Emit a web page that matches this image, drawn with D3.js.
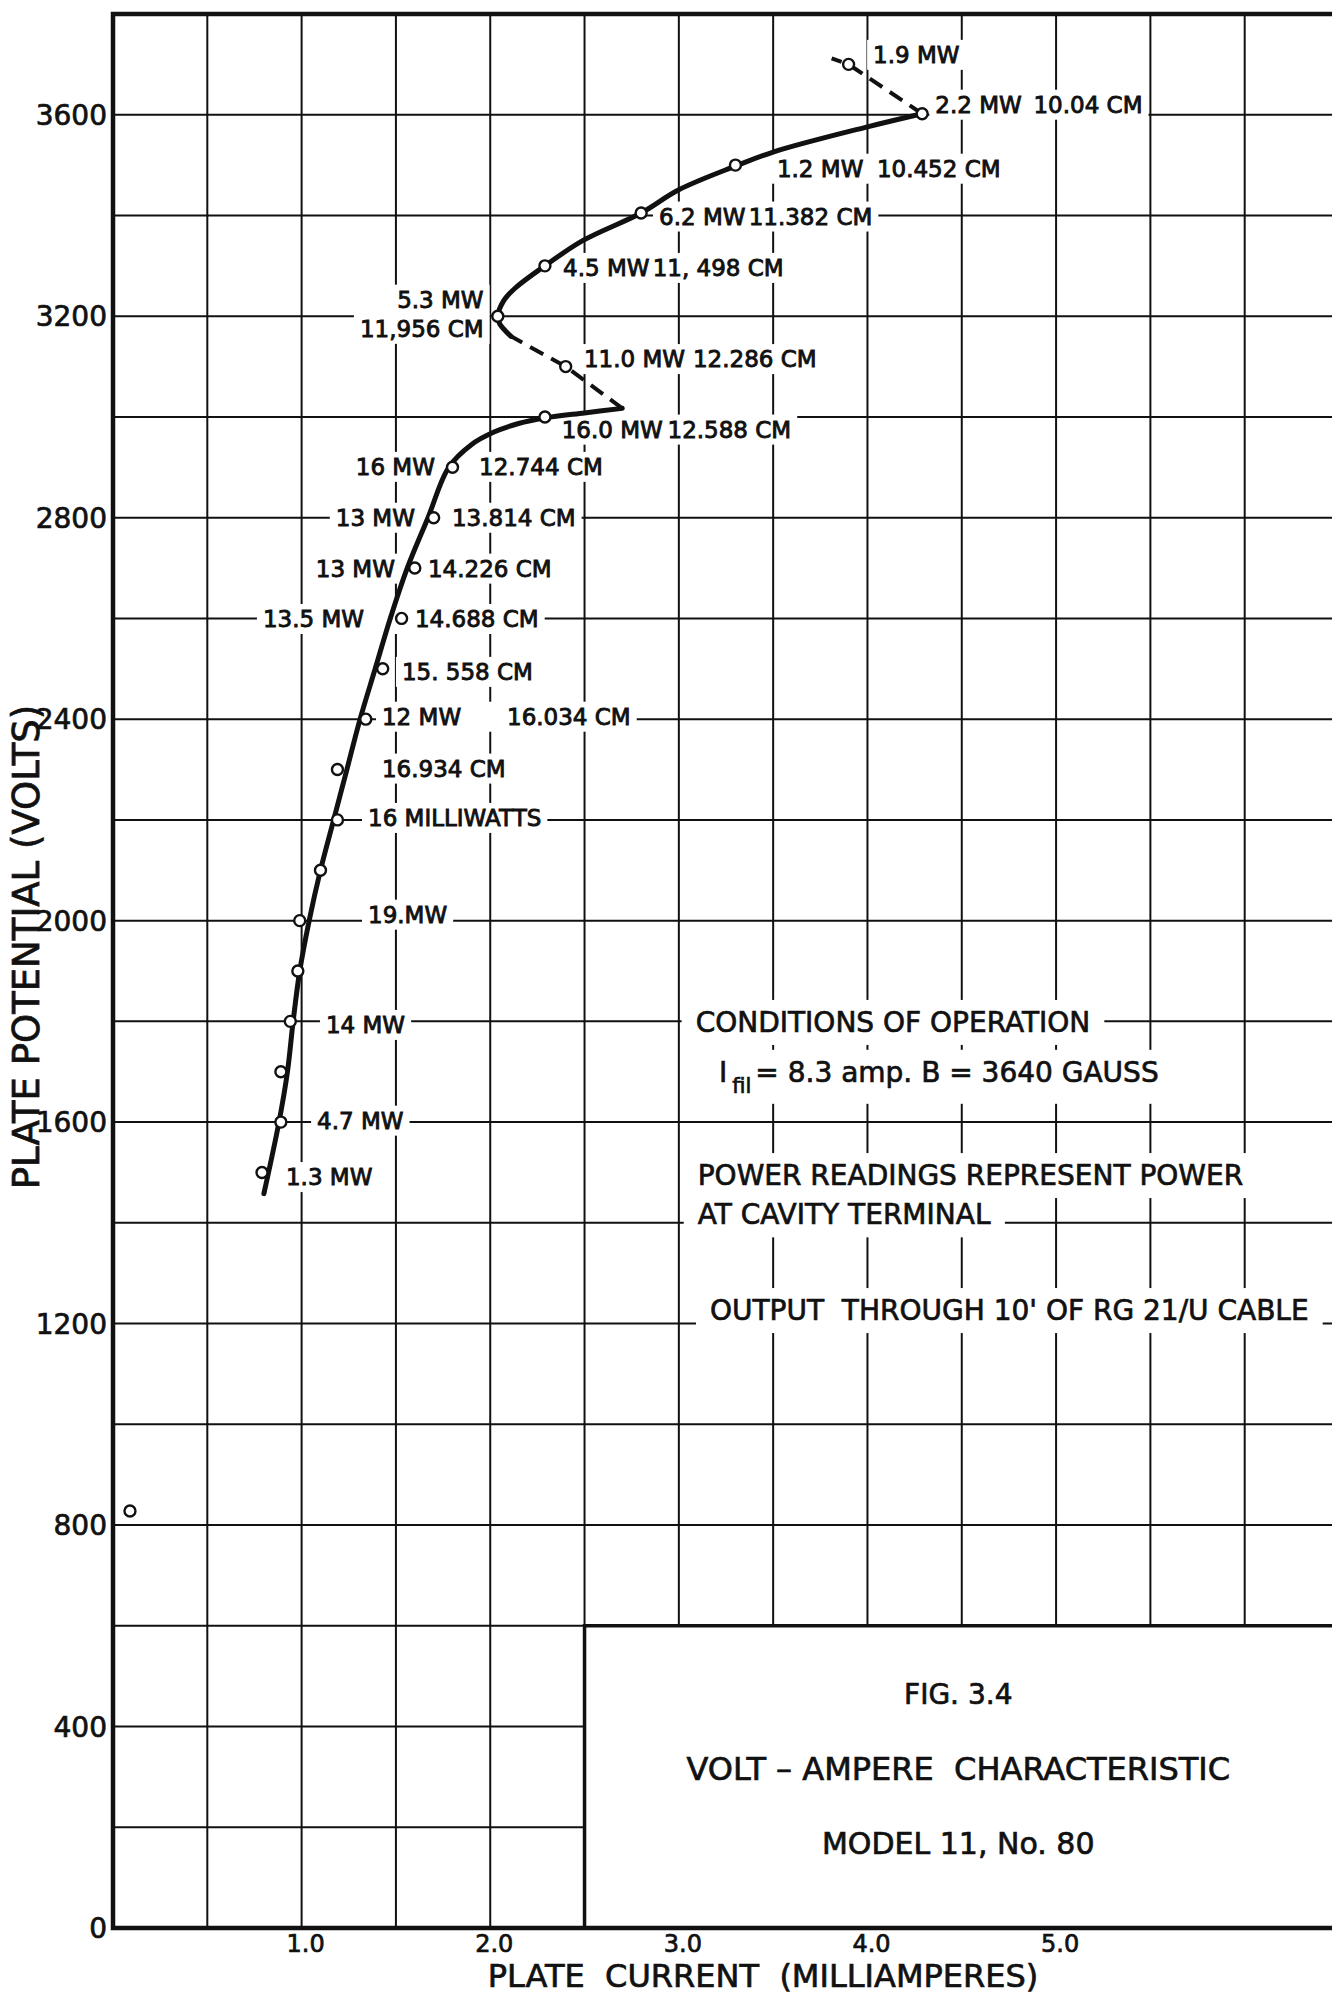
<!DOCTYPE html>
<meta charset="utf-8">
<style>
body {
  margin: 0;
  background: #fff;
}
text {
  font-family: "DejaVu Sans", sans-serif;
  fill: #111;
}
.grid line {
  stroke: #111;
  stroke-width: 2;
}
.lbl {
  font-size: 23px;
  stroke: #111;
  stroke-width: 0.9;
}
.note {
  font-size: 28px;
  stroke: #111;
  stroke-width: 0.7;
}
.tick {
  stroke: #111;
  stroke-width: 0.7;
}
</style>
<body>
<script src="https://cdn.jsdelivr.net/npm/d3@7"></script>
<script>

var width = 1332,
    height = 1995;

// observed readings: [plate current mA, plate potential V]
var points = [
  [0.09, 828], [0.79, 1500], [0.89, 1600], [0.89, 1700], [0.94, 1800],
  [0.98, 1900], [0.99, 2000], [1.10, 2100], [1.19, 2200], [1.19, 2300],
  [1.34, 2400], [1.43, 2500], [1.53, 2600], [1.60, 2700], [1.70, 2800],
  [1.80, 2900], [2.29, 3000], [2.40, 3100], [2.04, 3200], [2.29, 3300],
  [2.80, 3405], [3.30, 3500], [4.29, 3602], [3.90, 3700]
];

// hand-drawn curve
var lowerCurve = [
  [0.80, 1458], [0.88, 1600], [0.925, 1700], [0.955, 1800], [0.99, 1900],
  [1.04, 2000], [1.10, 2100], [1.17, 2200], [1.24, 2300], [1.31, 2400],
  [1.39, 2500], [1.47, 2600], [1.56, 2700], [1.67, 2800], [1.78, 2900],
  [1.90, 2945], [2.02, 2970], [2.15, 2987], [2.29, 2998], [2.50, 3008], [2.70, 3017]
];
var middleDash = [[2.70, 3017], [2.40, 3100], [2.11, 3160]];
var upperCurve = [
  [2.11, 3160], [2.05, 3185], [2.04, 3200], [2.07, 3230], [2.13, 3255],
  [2.29, 3300], [2.49, 3350], [2.80, 3405], [3.00, 3451], [3.30, 3498],
  [3.50, 3526], [4.00, 3576], [4.29, 3602]
];
var upperDash = [[4.29, 3602], [3.90, 3700], [3.81, 3712]];

// annotations: [text, mA, V, anchor]
var labels = [
  ["1.9 MW", 4.03, 3703, "start"],
  ["2.2 MW", 4.36, 3604, "start"],
  ["10.04 CM", 4.88, 3604, "start"],
  ["1.2 MW", 3.52, 3477, "start"],
  ["10.452 CM", 4.05, 3477, "start"],
  ["6.2 MW", 2.895, 3382, "start"],
  ["11.382 CM", 3.37, 3382, "start"],
  ["4.5 MW", 2.386, 3280, "start"],
  ["11, 498 CM", 2.861, 3280, "start"],
  ["5.3 MW", 1.965, 3217, "end"],
  ["11,956 CM", 1.965, 3159, "end"],
  ["11.0 MW", 2.497, 3099, "start"],
  ["12.286 CM", 3.075, 3099, "start"],
  ["16.0 MW", 2.379, 2959, "start"],
  ["12.588 CM", 2.94, 2959, "start"],
  ["16 MW", 1.707, 2885, "end"],
  ["12.744 CM", 1.941, 2885, "start"],
  ["13 MW", 1.601, 2784, "end"],
  ["13.814 CM", 1.797, 2784, "start"],
  ["13 MW", 1.495, 2683, "end"],
  ["14.226 CM", 1.670, 2683, "start"],
  ["13.5 MW", 1.331, 2583, "end"],
  ["14.688 CM", 1.601, 2583, "start"],
  ["15. 558 CM", 1.532, 2478, "start"],
  ["12 MW", 1.426, 2389, "start"],
  ["16.034 CM", 2.089, 2389, "start"],
  ["16.934 CM", 1.426, 2286, "start"],
  ["16 MILLIWATTS", 1.352, 2188, "start"],
  ["19.MW", 1.352, 1996, "start"],
  ["14 MW", 1.129, 1777, "start"],
  ["4.7 MW", 1.082, 1587, "start"],
  ["1.3 MW", 0.917, 1475, "start"]
];

// operating conditions: [text, mA, V]
var notes = [
  ["CONDITIONS OF OPERATION", 3.089, 1779],
  ["POWER READINGS REPRESENT POWER", 3.10, 1475],
  ["AT CAVITY TERMINAL", 3.10, 1397],
  ["OUTPUT  THROUGH 10' OF RG 21/U CABLE", 3.165, 1207]
];
var filament = ["I", "fil", "= 8.3 amp. B = 3640 GAUSS", 3.213, 1680];

var titleLines = ["FIG. 3.4", "VOLT – AMPERE  CHARACTERISTIC", "MODEL 11, No. 80"];
var titleV = [445, 294, 147];
var titleSize = [28, 32, 30];

var yTicks = d3.range(0, 3601, 400);
var xTicks = [1, 2, 3, 4, 5];
var boxCorner = [2.5, 600];

var x = d3.scaleLinear().domain([0, 6.5]).range([113, 1339]);
var y = d3.scaleLinear().domain([0, 3800]).range([1928, 14]);

var svg = d3.select("body").append("svg")
    .attr("width", width)
    .attr("height", height)
    .style("display", "block");

svg.append("rect").attr("width", width).attr("height", height).attr("fill", "#fff");

var gGrid = svg.append("g").attr("class", "grid"),
    gKnock = svg.append("g"),
    gFrame = svg.append("g"),
    gCurve = svg.append("g"),
    gText = svg.append("g");

// grid
gGrid.selectAll(".v").data(d3.range(0.5, 6.51, 0.5))
  .enter().append("line")
    .attr("x1", function(d) { return x(d); })
    .attr("x2", function(d) { return x(d); })
    .attr("y1", y(3800))
    .attr("y2", y(0));

gGrid.selectAll(".h").data(d3.range(200, 3601, 200))
  .enter().append("line")
    .attr("x1", x(0))
    .attr("x2", x(6.5))
    .attr("y1", function(d) { return y(d); })
    .attr("y2", function(d) { return y(d); });

// title block blanks the lower right of the grid
gFrame.append("rect")
    .attr("x", x(boxCorner[0]))
    .attr("y", y(boxCorner[1]))
    .attr("width", x(6.5) - x(boxCorner[0]))
    .attr("height", y(0) - y(boxCorner[1]))
    .attr("fill", "#fff");

gFrame.append("path")
    .attr("d", "M" + x(boxCorner[0]) + "," + y(0) + "V" + y(boxCorner[1]) + "H" + x(6.5))
    .attr("fill", "none")
    .attr("stroke", "#111")
    .attr("stroke-width", 3.5);

gFrame.append("path")
    .attr("d", "M" + x(6.5) + "," + y(3800) + "H" + x(0) + "V" + y(0) + "H" + x(6.5))
    .attr("fill", "none")
    .attr("stroke", "#111")
    .attr("stroke-width", 4.5);

// curves
var line = d3.line()
    .x(function(d) { return x(d[0]); })
    .y(function(d) { return y(d[1]); })
    .curve(d3.curveCatmullRom.alpha(0.5));

gCurve.append("path").datum(lowerCurve)
    .attr("d", line).attr("fill", "none").attr("stroke", "#111")
    .attr("stroke-width", 5).attr("stroke-linecap", "round");

gCurve.append("path").datum(upperCurve)
    .attr("d", line).attr("fill", "none").attr("stroke", "#111")
    .attr("stroke-width", 5).attr("stroke-linecap", "round");

gCurve.selectAll(".dash").data([middleDash, upperDash])
  .enter().append("path")
    .attr("d", d3.line().x(function(d) { return x(d[0]); }).y(function(d) { return y(d[1]); }))
    .attr("fill", "none").attr("stroke", "#111")
    .attr("stroke-width", 4).attr("stroke-dasharray", "15,9");

gCurve.selectAll(".point").data(points)
  .enter().append("circle")
    .attr("cx", function(d) { return x(d[0]); })
    .attr("cy", function(d) { return y(d[1]); })
    .attr("r", 5.5)
    .attr("fill", "#fff")
    .attr("stroke", "#111")
    .attr("stroke-width", 2.4);

// annotation texts with white knock-outs behind them
var knock = [],
    rowBoxes = [];

gText.selectAll(".lbl").data(labels)
  .enter().append("text")
    .attr("class", "lbl")
    .attr("x", function(d) { return x(d[1]); })
    .attr("y", function(d) { return y(d[2]); })
    .attr("text-anchor", function(d) { return d[3]; })
    .text(function(d) { return d[0]; })
    .each(function(d) { rowBoxes.push({key: d[2], b: this.getBBox()}); });

// labels on one row share a single knock-out
d3.group(rowBoxes, function(d) { return d.key; }).forEach(function(g) {
  var x0 = d3.min(g, function(d) { return d.b.x; }),
      x1 = d3.max(g, function(d) { return d.b.x + d.b.width; }),
      y0 = d3.min(g, function(d) { return d.b.y; }),
      y1 = d3.max(g, function(d) { return d.b.y + d.b.height; });
  knock.push([{x: x0, y: y0, width: x1 - x0, height: y1 - y0}, 6, 2]);
});

gText.selectAll(".note").data(notes)
  .enter().append("text")
    .attr("class", "note")
    .style("white-space", "pre")
    .attr("x", function(d) { return x(d[1]); })
    .attr("y", function(d) { return y(d[2]); })
    .text(function(d) { return d[0]; })
    .each(function() { knock.push([this.getBBox(), 14, 6]); });

var fil = gText.append("text")
    .attr("class", "note")
    .attr("x", x(filament[3]))
    .attr("y", y(filament[4]));
fil.append("tspan").text(filament[0]);
fil.append("tspan").attr("dx", 5).attr("dy", 11).style("font-size", "21px").text(filament[1]);
fil.append("tspan").attr("dx", 4).attr("dy", -11).text(filament[2]);
knock.push([fil.node().getBBox(), 14, 6]);

gKnock.selectAll("rect").data(knock)
  .enter().append("rect")
    .attr("x", function(d) { return d[0].x - d[1]; })
    .attr("y", function(d) { return d[0].y - d[2]; })
    .attr("width", function(d) { return d[0].width + 2 * d[1]; })
    .attr("height", function(d) { return d[0].height + 2 * d[2]; })
    .attr("fill", "#fff");

// title block
var cx = (x(boxCorner[0]) + width) / 2;
gText.selectAll(".title").data(titleLines)
  .enter().append("text")
    .attr("class", "tick")
    .style("white-space", "pre")
    .attr("x", cx)
    .attr("y", function(d, i) { return y(titleV[i]); })
    .attr("text-anchor", "middle")
    .style("font-size", function(d, i) { return titleSize[i] + "px"; })
    .text(function(d) { return d; });

// axes
gText.selectAll(".ytick").data(yTicks)
  .enter().append("text")
    .attr("class", "tick")
    .attr("x", x(0) - 6)
    .attr("y", function(d) { return y(d); })
    .attr("dy", "0.36em")
    .attr("text-anchor", "end")
    .style("font-size", "28px")
    .text(function(d) { return d; });

gText.selectAll(".xtick").data(xTicks)
  .enter().append("text")
    .attr("class", "tick")
    .attr("x", function(d) { return x(d) + 4; })
    .attr("y", y(0) + 23.5)
    .attr("text-anchor", "middle")
    .style("font-size", "24px")
    .text(function(d) { return d3.format(".1f")(d); });

gText.append("text")
    .attr("class", "tick")
    .style("white-space", "pre")
    .attr("x", 763)
    .attr("y", 1987)
    .attr("text-anchor", "middle")
    .style("font-size", "32px")
    .text("PLATE  CURRENT  (MILLIAMPERES)");

gText.append("text")
    .attr("class", "tick")
    .attr("transform", "translate(39,947)rotate(-90)")
    .attr("text-anchor", "middle")
    .style("font-size", "37px")
    .text("PLATE POTENTIAL (VOLTS)");

</script>
